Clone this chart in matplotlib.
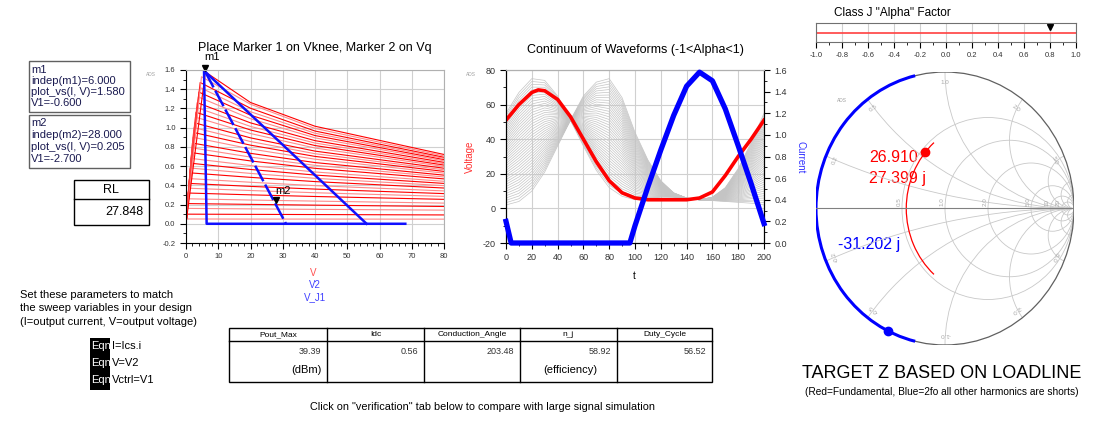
import numpy as np
import matplotlib.pyplot as plt
from matplotlib.patches import Rectangle, Circle, Arc
from matplotlib.ticker import MultipleLocator
from matplotlib.transforms import offset_copy

plt.rcParams['font.family'] = ['Liberation Sans', 'DejaVu Sans']
plt.rcParams['axes.unicode_minus'] = False

# ---------------- left panel: I-V family with load lines ----------------
iv_peak = [0.05, 0.10, 0.16, 0.21, 0.26, 0.32, 0.37, 0.42, 0.47, 0.53,
           0.58, 0.63, 0.68, 0.74, 0.79, 0.84, 0.90, 0.95, 1.00, 1.05,
           1.11, 1.16, 1.21, 1.26, 1.32, 1.37, 1.42, 1.47, 1.53, 1.58]
iv_knee = [0.1, 0.2, 0.3, 0.4, 0.55, 0.7, 0.8, 0.95, 1.1, 1.2,
           1.35, 1.5, 1.6, 1.75, 1.9, 2.0, 2.2, 2.35, 2.5, 2.7,
           2.9, 3.1, 3.3, 3.5, 3.8, 4.0, 4.2, 4.4, 4.8, 6.0]
iv_at20 = [0.049, 0.098, 0.155, 0.202, 0.247, 0.301, 0.346, 0.389, 0.432, 0.483,
           0.524, 0.565, 0.606, 0.654, 0.694, 0.733, 0.779, 0.818, 0.856, 0.894,
           0.939, 0.976, 1.013, 1.050, 1.093, 1.130, 1.166, 1.202, 1.244, 1.262]
iv_at40 = [0.049, 0.096, 0.150, 0.194, 0.236, 0.284, 0.323, 0.361, 0.397, 0.439,
           0.473, 0.507, 0.539, 0.577, 0.608, 0.637, 0.672, 0.701, 0.729, 0.756,
           0.788, 0.814, 0.840, 0.865, 0.894, 0.918, 0.942, 0.965, 0.992, 1.015]
iv_at80 = [0.048, 0.092, 0.142, 0.180, 0.215, 0.254, 0.285, 0.314, 0.342, 0.372,
           0.397, 0.420, 0.442, 0.467, 0.487, 0.506, 0.527, 0.545, 0.562, 0.578,
           0.596, 0.611, 0.625, 0.639, 0.655, 0.668, 0.680, 0.692, 0.706, 0.721]

knee_path_v = [5.6, 6.4, 68.0]
knee_path_i = [1.58, 0.0, 0.0]
loadline_v = [6.0, 56.0]
loadline_i = [1.58, 0.0]
vq_line_v = [6.0, 31.0]
vq_line_i = [1.58, 0.0]
m1_v, m1_i = 6.0, 1.58
m2_v, m2_i = 28.0, 0.205

# ---------------- middle panel: waveforms ----------------
t_grid = [0, 10, 20, 30, 40, 50, 60, 70, 80, 90, 100,
          110, 120, 130, 140, 150, 160, 170, 180, 190, 200]
v_alpha_pos = [55, 67, 75, 74, 65, 51, 36, 22, 12, 7, 5,
               5.5, 6.5, 6.5, 5.5, 5, 6.5, 12, 23, 38, 55]
v_alpha_neg = [2, 4, 10, 21, 36, 51, 65, 73, 75, 64, 44,
               28, 16, 9, 6, 5, 4.5, 4, 3.5, 3, 2]
alpha_sweep = [-1.0, -0.95, -0.9, -0.85, -0.8, -0.75, -0.7, -0.65, -0.6, -0.55,
               -0.5, -0.45, -0.4, -0.35, -0.3, -0.25, -0.2, -0.15, -0.1, -0.05,
               0.0, 0.05, 0.1, 0.15, 0.2, 0.25, 0.3, 0.35, 0.4, 0.45,
               0.5, 0.55, 0.6, 0.65, 0.7, 0.75, 0.8, 0.85, 0.9, 0.95, 1.0]

v_sel_t = [0, 10, 20, 25, 30, 40, 50, 60, 70, 80, 90, 100, 110, 120, 130,
           140, 150, 160, 170, 180, 190, 200]
v_sel = [51, 60, 67, 68.5, 68, 63, 53, 40, 27, 16, 9, 6, 5, 5, 5,
         5, 6, 9.5, 19, 30, 40, 51]
i_sel_t = [0, 4, 96, 100, 110, 120, 130, 140, 150, 160, 170, 180, 190, 200]
i_sel = [0.2, 0.0, 0.0, 0.16, 0.52, 0.86, 1.18, 1.45, 1.58, 1.50, 1.24, 0.90, 0.55, 0.18]

# ---------------- slider / smith / tables ----------------
alpha_value = 0.8
z0 = 50.0
fund_r = 26.910
fund_x = 27.399
fund_x_span = 34.2
h2_x = -31.202
h2_x_span = 39.5
smith_r_circles = [0.5, 1.0, 2.0, 5.0, 10.0, 20.0]
smith_r_labels = ['0.5', '1.0', '2.0', '5.0', '10', '20']
smith_x_arcs = [0.2, 0.5, 1.0, 2.0, 5.0, 10.0, 20.0]
smith_x_labeled = [0.2, 0.5, 1.0, 2.0, 5.0]

m1_lines = ['m1', 'indep(m1)=6.000', 'plot_vs(I, V)=1.580', 'V1=-0.600']
m2_lines = ['m2', 'indep(m2)=28.000', 'plot_vs(I, V)=0.205', 'V1=-2.700']
rl_value = '27.848'
table_headers = ['Pout_Max', 'Idc', 'Conduction_Angle', 'n_j', 'Duty_Cycle']
table_values = ['39.39', '0.56', '203.48', '58.92', '56.52']
table_units = ['(dBm)', '', '', '(efficiency)', '']
eqn_lines = ['I=Ics.i', 'V=V2', 'Vctrl=V1']

W, H = 1107, 421
fig = plt.figure(figsize=(W / 100, H / 100), dpi=100)


def rect(x0, y0, x1, y1):
    return [x0 / W, 1 - y1 / H, (x1 - x0) / W, (y1 - y0) / H]


bg = fig.add_axes([0, 0, 1, 1])
bg.set_xlim(0, W)
bg.set_ylim(H, 0)
bg.axis('off')

TICK = '#333333'
GRID = '#d0d0d0'


def style_axes(ax, right_black=False):
    for s in ['top', 'right']:
        ax.spines[s].set_color('#b0b0b0')
    if right_black:
        ax.spines['right'].set_color('black')
    ax.tick_params(which='both', direction='out', colors='black', labelcolor=TICK)
    ax.tick_params(which='major', length=4, width=0.8)
    ax.tick_params(which='minor', length=2, width=0.6)
    ax.grid(True, which='major', color=GRID, lw=0.8)
    ax.set_axisbelow(True)


# ---- left panel ----
ax1 = fig.add_axes(rect(186, 70, 444, 243))
for k in range(len(iv_peak)):
    col = '#ff0000' if k % 2 == 1 else '#ff8a8a'
    ax1.plot([0, iv_knee[k], 20, 40, 80],
             [0, iv_peak[k], iv_at20[k], iv_at40[k], iv_at80[k]],
             color=col, lw=0.8)
ax1.plot(knee_path_v, knee_path_i, color='#1010ff', lw=1.8)
ax1.plot(loadline_v, loadline_i, color='#1010ff', lw=1.8)
ax1.plot(vq_line_v, vq_line_i, color='#1010ff', lw=1.8, ls=(0, (7, 1.5)))
ax1.set_xlim(0, 80)
ax1.set_ylim(-0.2, 1.6)
ax1.xaxis.set_major_locator(MultipleLocator(10))
ax1.xaxis.set_minor_locator(MultipleLocator(2))
ax1.yaxis.set_major_locator(MultipleLocator(0.2))
ax1.yaxis.set_minor_locator(MultipleLocator(0.1))
ax1.yaxis.set_major_formatter(lambda v, p: f'{v:.1f}')
style_axes(ax1)
ax1.tick_params(labelsize=5.5)
tri_off = offset_copy(ax1.transData, fig=fig, y=3, units='points')
ax1.plot([m1_v], [m1_i], marker='v', color='black', ms=5, transform=tri_off, clip_on=False)
ax1.plot([m2_v], [m2_i], marker='v', color='black', ms=5, transform=tri_off, clip_on=False)
ax1.text(m1_v, m1_i, 'm1', transform=offset_copy(ax1.transData, fig=fig, x=-1, y=7, units='points'),
         fontsize=8, ha='left', va='bottom')
ax1.text(m2_v, m2_i, 'm2', transform=offset_copy(ax1.transData, fig=fig, x=-1, y=6, units='points'),
         fontsize=8, ha='left', va='bottom')
ax1.set_title('Place Marker 1 on Vknee, Marker 2 on Vq', fontsize=9, pad=14)

# ---- middle panel ----
ax2 = fig.add_axes(rect(506, 70, 764, 243))
vp = np.array(v_alpha_pos)
vn = np.array(v_alpha_neg)
for a in alpha_sweep:
    ax2.plot(t_grid, (1 + a) / 2 * vp + (1 - a) / 2 * vn, color='#c4c4c4', lw=0.5)
ax2.plot(v_sel_t, v_sel, color='#ff0000', lw=2.6, zorder=5)
ax2.set_xlim(0, 200)
ax2.set_ylim(-20, 80)
ax2.xaxis.set_major_locator(MultipleLocator(20))
ax2.xaxis.set_minor_locator(MultipleLocator(10))
ax2.yaxis.set_major_locator(MultipleLocator(20))
ax2.yaxis.set_minor_locator(MultipleLocator(10))
style_axes(ax2, right_black=True)
ax2.tick_params(labelsize=6.5)
ax2.set_title('Continuum of Waveforms (-1<Alpha<1)', fontsize=9, pad=12)
ax2r = ax2.twinx()
ax2r.plot(i_sel_t, i_sel, color='#0000ff', lw=3.8, clip_on=False, zorder=6)
ax2r.set_ylim(0, 1.6)
ax2r.yaxis.set_major_locator(MultipleLocator(0.2))
ax2r.yaxis.set_minor_locator(MultipleLocator(0.1))
ax2r.yaxis.set_major_formatter(lambda v, p: f'{v:.1f}')
ax2r.spines['right'].set_color('black')
ax2r.spines['top'].set_color('#b0b0b0')
ax2r.tick_params(which='both', direction='out', labelsize=6.5, labelcolor=TICK)
ax2r.tick_params(which='major', length=4)
ax2r.tick_params(which='minor', length=2)

# ---- alpha slider ----
axs = fig.add_axes(rect(816, 23, 1076, 42))
axs.set_xlim(-1, 1)
axs.set_ylim(0, 1)
axs.axhline(0.5, color='#ff4040', lw=1.2)
axs.plot([alpha_value], [0.78], marker='v', color='black', ms=5)
axs.xaxis.set_major_locator(MultipleLocator(0.2))
axs.xaxis.set_minor_locator(MultipleLocator(0.1))
axs.xaxis.set_major_formatter(lambda v, p: f'{v:.1f}')
axs.set_yticks([])
axs.grid(True, axis='x', color=GRID, lw=0.8)
for s in axs.spines.values():
    s.set_color('#707070')
axs.tick_params(which='both', direction='out', labelsize=5.5, labelcolor=TICK)
axs.tick_params(which='major', length=4)
axs.tick_params(which='minor', length=2)
bg.text(834, 13, 'Class J "Alpha" Factor', fontsize=8.5, ha='left', va='center')

# ---- smith chart ----
axz = fig.add_axes(rect(816, 72, 1074, 345))
axz.set_xlim(-1, 1)
axz.set_ylim(-1, 1)
axz.axis('off')
unit = Circle((0, 0), 1, transform=axz.transData, fill=False, lw=0)
for r in smith_r_circles:
    c = Circle((r / (1 + r), 0), 1 / (1 + r), fill=False, ec='#c8c8c8', lw=0.6)
    axz.add_patch(c)
for xv in smith_x_arcs:
    for sgn in (1, -1):
        c = Circle((1, sgn / xv), 1 / xv, fill=False, ec='#c8c8c8', lw=0.6)
        axz.add_patch(c)
        c.set_clip_path(unit)
axz.add_patch(unit)
axz.add_patch(Circle((0, 0), 1, fill=False, ec='#606060', lw=0.9))
axz.plot([-1, 1], [0, 0], color='#808080', lw=0.8)
for r, lab in zip(smith_r_circles, smith_r_labels):
    axz.text((r - 1) / (r + 1) - 0.025, 0.02, lab, fontsize=4.5, color='#a8a8a8',
             rotation=90, ha='center', va='bottom')


def gamma(z):
    zn = z / z0
    return (zn - 1) / (zn + 1)


for xv in smith_x_labeled:
    for sgn in (1, -1):
        g = gamma(complex(0, sgn * xv * z0))
        rot = np.degrees(np.angle(g)) - 90
        axz.text(0.92 * g.real, 0.92 * g.imag, f'{sgn * xv:.1f}', fontsize=4.5,
                 color='#a8a8a8', rotation=rot, ha='center', va='center')

# fundamental locus on constant-R circle
rn = fund_r / z0
g_top = gamma(complex(fund_r, fund_x_span))
cen = rn / (1 + rn)
ang = np.degrees(np.arctan2(g_top.imag, g_top.real - cen))
axz.add_patch(Arc((cen, 0), 2 / (1 + rn), 2 / (1 + rn), theta1=ang, theta2=360 - ang,
                  color='#ff0000', lw=0.9))
gf = gamma(complex(fund_r, fund_x))
axz.plot([gf.real], [gf.imag], 'o', color='#ff0000', ms=6, zorder=6)
# 2nd harmonic on the rim
g_h = gamma(complex(0, h2_x_span))
ang_h = np.degrees(np.angle(g_h))
axz.add_patch(Arc((0, 0), 2, 2, theta1=ang_h, theta2=360 - ang_h, color='#0000ff', lw=2.2))
g2 = gamma(complex(0, h2_x))
axz.plot([g2.real], [g2.imag], 'o', color='#0000ff', ms=6, zorder=6)

bg.text(869, 158, f'{fund_r:.3f}', color='#ff0000', fontsize=11.5, ha='left', va='center')
bg.text(869, 178, f'{fund_x:.3f} j', color='#ff0000', fontsize=11.5, ha='left', va='center')
bg.text(838, 245, f'{h2_x:.3f} j', color='#0000ff', fontsize=11.5, ha='left', va='center')

# ---- small ADS tags ----
for x, y in [(151, 75), (471, 75), (842, 101)]:
    bg.text(x, y, 'ADS', fontsize=3.5, color='#a0a0a0', ha='center', va='center')

# ---- axis labels for middle panel ----
bg.text(470, 157, 'Voltage', color='#ff3030', fontsize=7, rotation=90, ha='center', va='center')
bg.text(800, 157, 'Current', color='#3030ff', fontsize=7, rotation=270, ha='center', va='center')
bg.text(634, 276, 't', fontsize=7, ha='center', va='center')

# ---- legend under left panel ----
bg.text(313, 273, 'V', color='#ff5050', fontsize=7, ha='center', va='center')
bg.text(315, 285, 'V2', color='#4040ff', fontsize=7, ha='center', va='center')
bg.text(315, 297, 'V_J1', color='#4040ff', fontsize=7, ha='center', va='center')

# ---- marker readout boxes ----
bg.add_patch(Rectangle((29, 61), 101, 51, fill=False, ec='#606060', lw=1))
bg.add_patch(Rectangle((29, 115), 101, 53, fill=False, ec='#606060', lw=1))
for i, s in enumerate(m1_lines):
    bg.text(31, 70 + 11 * i, s, fontsize=8, ha='left', va='center', color='#1a1a50')
for i, s in enumerate(m2_lines):
    bg.text(31, 123 + 12 * i, s, fontsize=8, ha='left', va='center', color='#1a1a50')

bg.add_patch(Rectangle((74, 180), 75, 45, fill=False, ec='black', lw=1))
bg.plot([74, 149], [199, 199], color='black', lw=1)
bg.text(111, 190, 'RL', fontsize=9, ha='center', va='center')
bg.text(143, 212, rl_value, fontsize=9, ha='right', va='center')

# ---- equations ----
bg.text(20, 295, 'Set these parameters to match', fontsize=8, ha='left', va='center')
bg.text(20, 308, 'the sweep variables in your design', fontsize=8, ha='left', va='center')
bg.text(20, 322, '(I=output current, V=output voltage)', fontsize=8, ha='left', va='center')
bg.add_patch(Rectangle((90, 338), 20, 52, color='black', lw=0))
for i, s in enumerate(eqn_lines):
    yy = 346 + 17 * i
    bg.text(91, yy, 'Eqn', color='white', fontsize=8, ha='left', va='center')
    bg.text(112, yy, s, fontsize=8, ha='left', va='center')

# ---- results table ----
col_x = [229, 327, 424, 520, 617, 712]
bg.add_patch(Rectangle((229, 328), 483, 54, fill=False, ec='black', lw=1))
bg.plot([229, 712], [341, 341], color='black', lw=1)
for cx in col_x[1:-1]:
    bg.plot([cx, cx], [328, 382], color='black', lw=1)
for i in range(len(table_headers)):
    bg.text((col_x[i] + col_x[i + 1]) / 2, 334.5, table_headers[i], fontsize=6, ha='center', va='center')
    bg.text(col_x[i + 1] - 6, 352, table_values[i], fontsize=6.5, ha='right', va='center', color='#333333')
    if table_units[i]:
        bg.text(col_x[i + 1] - 5 if i == 0 else col_x[i + 1] - 20, 370, table_units[i],
                fontsize=8, ha='right', va='center')
bg.text(482, 407, 'Click on "verification" tab below to compare with large signal simulation',
        fontsize=7.8, ha='center', va='center')

# ---- smith caption ----
bg.text(942, 373, 'TARGET Z BASED ON LOADLINE', fontsize=13, ha='center', va='center')
bg.text(942, 392, '(Red=Fundamental, Blue=2fo all other harmonics are shorts)',
        fontsize=7.3, ha='center', va='center')

fig.savefig('out.png', dpi=100)
